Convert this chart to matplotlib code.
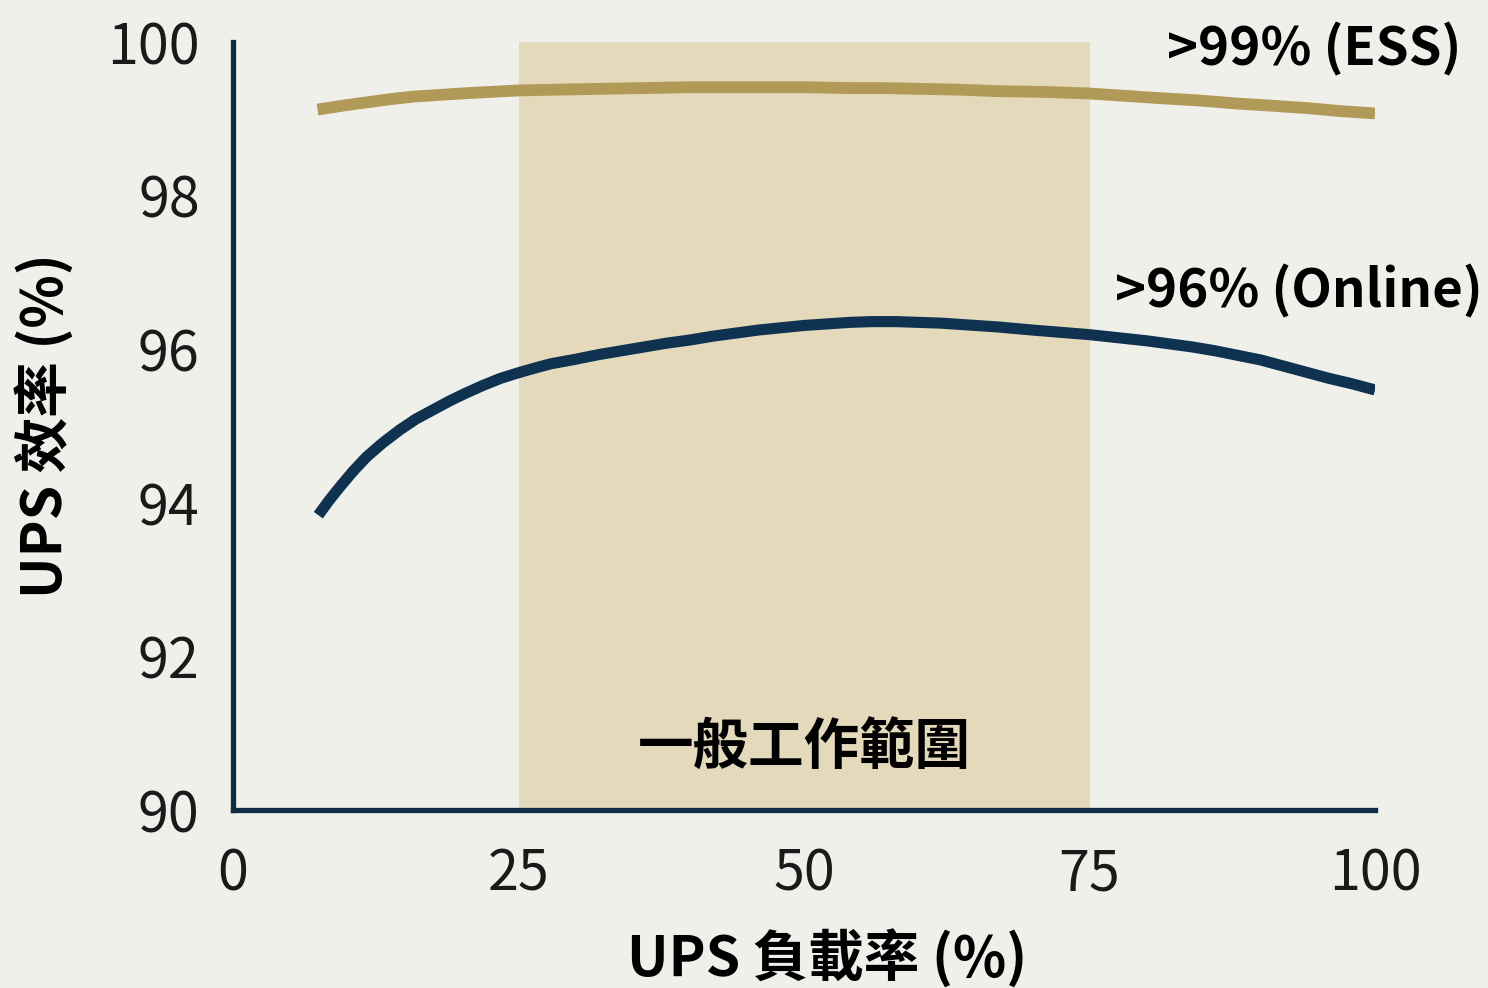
import matplotlib.pyplot as plt

plt.rcParams['font.family'] = ['Noto Sans CJK TC', 'DejaVu Sans']

# load (%) and efficiency (%)
ess_x = [7.4, 10, 12, 14, 15.9, 18, 20, 22.5, 25.1, 28.5, 32, 36, 39.4, 43, 47,
         50.5, 54, 57, 60, 63.5, 67, 71, 74.9, 78, 81, 84.5, 87.8, 91, 94, 97, 100]
ess_y = [99.12, 99.18, 99.22, 99.26, 99.29, 99.31, 99.33, 99.35, 99.37, 99.38,
         99.39, 99.40, 99.41, 99.41, 99.41, 99.41, 99.40, 99.40, 99.39, 99.38,
         99.36, 99.35, 99.33, 99.30, 99.27, 99.24, 99.20, 99.17, 99.14, 99.10, 99.07]

online_x = [7.47, 8.4, 9.37, 10.5, 11.7, 13.1, 14.6, 16, 17.5, 19, 20.4, 21.9,
            23.4, 24.9, 26.3, 27.8, 30, 32, 34, 36, 38, 40, 42, 44, 46, 48, 50,
            52, 54, 56, 58, 60, 62, 64, 67, 70, 72.5, 75, 77.5, 80, 82, 84, 86,
            88, 90, 92, 94, 96, 98, 100]
online_y = [93.84, 94.03, 94.21, 94.41, 94.60, 94.78, 94.95, 95.09, 95.21, 95.33,
            95.43, 95.53, 95.62, 95.69, 95.75, 95.81, 95.87, 95.93, 95.98, 96.03,
            96.08, 96.12, 96.17, 96.21, 96.25, 96.28, 96.31, 96.33, 96.35, 96.36,
            96.36, 96.35, 96.34, 96.32, 96.29, 96.25, 96.22, 96.19, 96.15, 96.11,
            96.07, 96.03, 95.98, 95.92, 95.86, 95.78, 95.70, 95.62, 95.55, 95.47]

band = (25, 75)
xticks = [0, 25, 50, 75, 100]
yticks = [90, 92, 94, 96, 98, 100]

bg = '#f0f0eb'
navy = '#0f2b45'

fig = plt.figure(figsize=(14.88, 9.88), dpi=100, facecolor=bg)
ax = fig.add_axes([0.1566, 0.180, 0.7675, 0.7775])
ax.set_facecolor(bg)

ax.axvspan(band[0], band[1], ymin=0, ymax=1, color='#e4d9ba', lw=0, zorder=1)

ax.plot(ess_x, ess_y, color='#b19a57', lw=8.5, solid_capstyle='butt',
        solid_joinstyle='round', zorder=3)
ax.plot(online_x, online_y, color='#0e3250', lw=8, solid_capstyle='butt',
        solid_joinstyle='round', zorder=3)

ax.text(107.6, 99.9, '>99% (ESS)', ha='right', va='center', fontsize=38,
        fontweight='bold', clip_on=False)
ax.text(109.4, 96.75, '>96% (Online)', ha='right', va='center', fontsize=38,
        fontweight='bold', clip_on=False)
ax.text(50, 90.8, '一般工作範圍', ha='center', va='center', fontsize=40,
        fontweight='bold', zorder=4)

ax.set_xlim(0, 100)
ax.set_ylim(90, 100)
ax.set_xticks(xticks)
ax.set_yticks(yticks)
ax.tick_params(length=0, labelsize=40, colors='#1a1a1a')
ax.tick_params(axis='x', pad=26)
ax.tick_params(axis='y', pad=24)

for s in ['top', 'right']:
    ax.spines[s].set_visible(False)
for s in ['left', 'bottom']:
    ax.spines[s].set_color(navy)
    ax.spines[s].set_linewidth(3.8)
    ax.spines[s].set_capstyle('projecting')

ax.set_xlabel('UPS 負載率 (%)', fontsize=40, fontweight='bold', labelpad=14)
ax.xaxis.set_label_coords(0.52, -0.155)
ax.set_ylabel('UPS 效率 (%)', fontsize=40, fontweight='bold', labelpad=24)

fig.savefig('out.png', dpi=100, facecolor=bg)
